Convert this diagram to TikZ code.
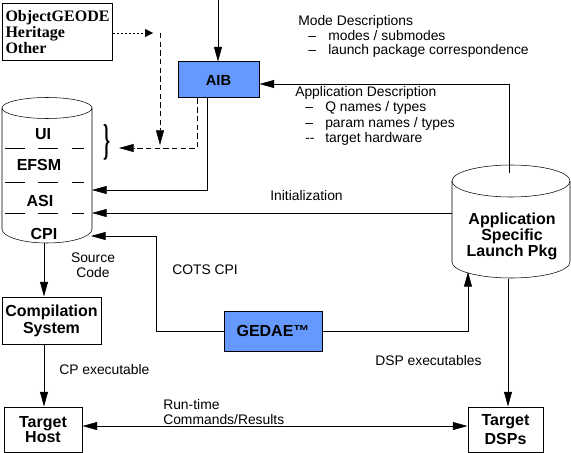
\documentclass[tikz,border=0pt]{standalone}
\usepackage{fontspec}
\setmainfont{Liberation Sans}
\newfontfamily\geodefont{Liberation Serif}
\usepackage{graphicx}
\usepackage{tikz}
\usetikzlibrary{arrows.meta,positioning}
\definecolor{aibblue}{HTML}{6699FF}
\newcommand{\descitem}[2]{\makebox[22.5pt][l]{\hspace{7.5pt}#1}#2}

\begin{document}
\begin{tikzpicture}[x=0.75pt,y=0.75pt,yscale=-1,xscale=1,
  every node/.style={font=\fontsize{10.4}{11.5}\selectfont},
  lbl/.style={inner sep=0pt},
  box/.style={draw, line width=0.75pt, align=center, inner sep=0pt, font=\bfseries\fontsize{12}{13}\selectfont},
  toolbox/.style={box, fill=aibblue},
  cyllabel/.style={inner sep=0pt, font=\bfseries\fontsize{12}{12}\selectfont},
  arr/.style={-{Triangle[length=11pt,width=6pt]}},
  dblarr/.style={{Triangle[length=11pt,width=6pt]}-{Triangle[length=11pt,width=6pt]}},
  dasharr/.style={arr, dash pattern=on 4pt off 2.5pt},
  dotarr/.style={-{Triangle[length=6pt,width=6pt]}, dash pattern=on 1.5pt off 1.5pt}]
\useasboundingbox (0,0) rectangle (571,453);

% Source list
\node[box, anchor=north west, minimum width=82.5pt, minimum height=42.75pt, align=left,
  font=\geodefont\bfseries\fontsize{12}{11.7}\selectfont] (geode) at (2,3) {ObjectGEODE\\Heritage\\Other};

% Tool boxes
\node[toolbox, minimum width=60.75pt, minimum height=27pt, font=\bfseries\fontsize{11}{12}\selectfont] (aib) at (218.5,80) {AIB};
\node[toolbox, minimum width=73.5pt, minimum height=30pt] (gedae) at (273,331) {GEDAE™};

% Plain boxes
\node[box, minimum width=74.25pt, minimum height=35.25pt, font=\bfseries\fontsize{12}{12.75}\selectfont] (comp) at (51.5,320.5) {Compilation\\System};
\node[box, minimum width=58.5pt, minimum height=33.75pt, font=\bfseries\fontsize{12}{11.5}\selectfont] (host) at (43,429.5) {Target\\Host};
\node[box, minimum width=56.25pt, minimum height=33.75pt, font=\bfseries\fontsize{12}{14}\selectfont] (dsps) at (505.5,429.5) {Target\\DSPs};

% Left cylinder
\draw (47,108) ellipse [x radius=45, y radius=10.5];
\draw (2,108) -- (2,229) arc [start angle=180, end angle=0, x radius=45, y radius=14] -- (92,108);
\foreach \y in {148,182,213}
  \draw[dash pattern=on 15pt off 10pt] (5,\y) -- (84,\y);
\node[cyllabel] (ui) at (43,134) {UI};
\node[cyllabel] (efsm) at (39,165) {EFSM};
\node[cyllabel] (asi) at (40,201) {ASI};
\node[cyllabel] (cpi) at (44,234) {CPI};
\node[inner sep=0pt] (brace) at (107,142) {\scalebox{1.1}[2.7]{\geodefont\bfseries\fontsize{12}{12}\selectfont\}}};

% Right cylinder
\draw (511,181) ellipse [x radius=59, y radius=16];
\draw (452,181) -- (452,262) arc [start angle=180, end angle=0, x radius=59, y radius=16] -- (570,181);
\node[cyllabel, align=center] (launch) at (512,236) {Application\\Specific\\Launch Pkg};

% Connector ends
\coordinate (aib-in) at (218,0);
\coordinate (geode-tip) at (153,33);
\coordinate (dash-turn) at (160,33);
\coordinate (lc-ui) at (119,148);
\coordinate (lc-efsm) at (92,190);
\coordinate (lc-asi) at (92,213);
\coordinate (lc-cpi) at (91,236);
\coordinate (lc-out) at (44,243);
\coordinate (cots-turn) at (156,236);
\coordinate (rc-top) at (509,173);
\coordinate (rc-left) at (452,213);
\coordinate (rc-in) at (468,272);
\coordinate (rc-out) at (508,279);

% Connectors
\draw[arr] (aib-in) -- (aib-in |- aib.north);
\draw[arr] (rc-top) |- ([yshift=3pt]aib.east);
\draw[dotarr] (geode.east |- geode-tip) -- (geode-tip);
\draw[dasharr, shorten >=2.25pt] (dash-turn) -- (dash-turn |- lc-ui);
\draw[dasharr] ([xshift=-16.1pt]aib.south) |- (lc-ui);
\draw[arr] ([xshift=-8.6pt]aib.south) |- (lc-efsm);
\draw[arr] (rc-left) -- (lc-asi);
\draw[arr] (gedae.west) -| (cots-turn) -- (lc-cpi);
\draw[arr] (gedae.east) -| (rc-in);
\draw[arr] (lc-out) -- (lc-out |- comp.north);
\draw[arr] (comp.south -| lc-out) -- (host.north -| lc-out);
\draw[arr] (rc-out) -- (rc-out |- dsps.north);
\draw[dblarr] ([yshift=-2.6pt]host.east) -- ([yshift=-2.6pt]dsps.west);

% Text labels
\node[lbl, anchor=west, align=left, font=\fontsize{10.4}{10.9}\selectfont] (modes) at (298,36.5)
  {Mode Descriptions\\ \descitem{--}{modes / submodes}\\ \descitem{--}{launch package correspondence}};
\node[lbl, anchor=west, align=left] (appdesc) at (295,116)
  {Application Description\\ \descitem{--}{Q names / types}\\ \descitem{--}{param names / types}\\ \descitem{-{}-}{target hardware}};
\node[lbl, anchor=west] (init) at (270,196) {Initialization};
\node[lbl, align=center, font=\fontsize{10.4}{11}\selectfont] (src) at (93,265) {Source\\Code};
\node[lbl] (cots) at (205,270) {COTS CPI};
\node[lbl, anchor=west] (cpexe) at (59,370) {CP executable};
\node[lbl, anchor=west, align=left, font=\fontsize{10.4}{11.25}\selectfont] (runtime) at (163,412.5) {Run-time\\Commands/Results};
\node[lbl, anchor=west] (dspexe) at (375,361) {DSP executables};

\end{tikzpicture}
\end{document}
